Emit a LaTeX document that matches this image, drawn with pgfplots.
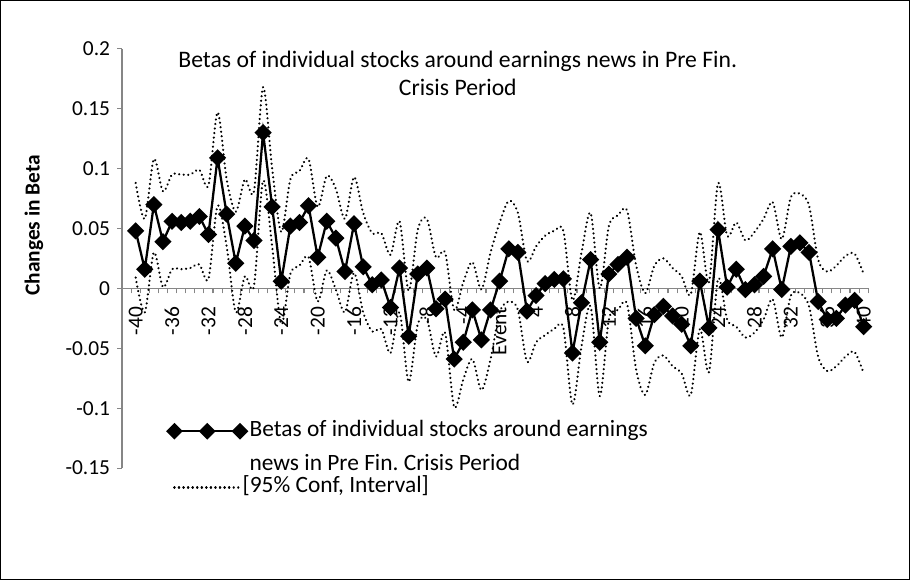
\documentclass[border=0pt]{standalone}
\usepackage{pgfplots}
\pgfplotsset{compat=1.18}
\usepackage{fontspec}
\setmainfont{Carlito}
\frenchspacing
\definecolor{axgray}{RGB}{134,134,134}
\pgfplotsset{
  mylegA/.style={legend image code/.code={\draw[##1, line width=1.4pt] plot coordinates {(0pt,0pt) (24.5pt,0pt) (49pt,0pt)};}},
  mylegB/.style={legend image code/.code={\draw[##1, overlay] (0pt,0pt) -- (43.5pt,0pt); \path (0pt,0pt) -- (49pt,0pt);}},
}
\pgfplotstableread{
t main upper lower
-40 0.048 0.088 0.009
-39 0.016 0.058 -0.020
-38 0.070 0.108 0.030
-37 0.039 0.081 0.001
-36 0.056 0.095 0.016
-35 0.055 0.095 0.016
-34 0.056 0.095 0.017
-33 0.060 0.099 0.020
-32 0.045 0.086 0.008
-31 0.109 0.147 0.069
-30 0.062 0.091 0.035
-29 0.021 0.064 -0.020
-28 0.052 0.091 0.010
-27 0.040 0.081 0.002
-26 0.130 0.168 0.090
-25 0.068 0.100 0.035
-24 0.006 0.047 -0.030
-23 0.052 0.091 0.012
-22 0.055 0.098 0.019
-21 0.069 0.108 0.026
-20 0.026 0.068 -0.011
-19 0.056 0.094 0.015
-18 0.042 0.083 -0.001
-17 0.014 0.058 -0.020
-16 0.054 0.093 0.013
-15 0.018 0.063 -0.020
-14 0.003 0.046 -0.036
-13 0.007 0.046 -0.034
-12 -0.016 0.028 -0.054
-11 0.017 0.056 -0.020
-10 -0.040 -0.002 -0.078
-9 0.012 0.049 -0.030
-8 0.017 0.058 -0.026
-7 -0.017 0.026 -0.057
-6 -0.009 0.030 -0.037
-5 -0.059 -0.018 -0.099
-4 -0.045 0.005 -0.076
-3 -0.018 0.022 -0.059
-2 -0.043 -0.001 -0.085
-1 -0.018 0.030 -0.059
0 0.006 0.055 -0.020
1 0.033 0.073 -0.011
2 0.030 0.063 -0.018
3 -0.019 0.023 -0.061
4 -0.006 0.035 -0.045
5 0.004 0.044 -0.039
6 0.0075 0.048 -0.034
7 0.008 0.048 -0.033
8 -0.054 -0.010 -0.097
9 -0.012 0.030 -0.048
10 0.024 0.063 -0.015
11 -0.045 0.000 -0.090
12 0.012 0.052 -0.026
13 0.020 0.061 -0.018
14 0.026 0.065 -0.013
15 -0.025 0.019 -0.068
16 -0.048 -0.004 -0.089
17 -0.022 0.019 -0.062
18 -0.015 0.025 -0.056
19 -0.023 0.017 -0.065
20 -0.030 0.010 -0.071
21 -0.048 -0.005 -0.089
22 0.006 0.047 -0.034
23 -0.033 0.005 -0.070
24 0.049 0.088 0.008
25 0.001 0.044 -0.026
26 0.016 0.055 -0.032
27 -0.001 0.040 -0.041
28 0.003 0.047 -0.037
29 0.010 0.058 -0.026
30 0.033 0.072 -0.009
31 -0.001 0.041 -0.041
32 0.035 0.076 -0.006
33 0.038 0.079 -0.004
34 0.030 0.069 -0.015
35 -0.011 0.024 -0.057
36 -0.026 0.014 -0.069
37 -0.025 0.019 -0.065
38 -0.014 0.027 -0.057
39 -0.010 0.029 -0.053
40 -0.032 0.012 -0.071
}\datatable
\begin{document}
\begin{tikzpicture}
\begin{axis}[
  at={(0pt,0pt)}, anchor=south west,
  scale only axis, width=558pt, height=313.5pt,
  xmin=-41.5, xmax=40.5, ymin=-0.15, ymax=0.2,
  axis x line*=middle, axis y line*=left,
  axis line style={axgray, line width=0.8pt},
  tick align=outside,
  xtick={-40,-36,-32,-28,-24,-20,-16,-12,-8,-4,0,4,8,12,16,20,24,28,32,36,40},
  xticklabels={-40,-36,-32,-28,-24,-20,-16,-12,-8,-4,Event,4,8,12,16,20,24,28,32,36,40},
  minor xtick={-41.5,-40.5,...,40.5},
  major x tick style={draw=none},
  minor x tick style={axgray, line width=0.8pt},
  minor tick length=3.75pt,
  ytick={-0.15,-0.1,-0.05,0,0.05,0.1,0.15,0.2},
  yticklabels={-0.15,-0.1,-0.05,0,0.05,0.1,0.15,0.2},
  ytick style={axgray, line width=0.8pt},
  major tick length=3.75pt,
  tick label style={font=\fontsize{16}{19}\selectfont, black},
  x tick label style={rotate=90, anchor=east, inner sep=1pt, xshift=-9pt},
  y tick label style={inner sep=1pt, xshift=-4pt},
  ylabel={Changes in Beta},
  every axis y label/.style={at={(axis description cs:-0.118,0.579)}, rotate=90, anchor=center, font=\fontsize{16}{19}\selectfont\bfseries},
  title={Betas of individual stocks around earnings news in Pre Fin.\\Crisis Period},
  title style={at={(axis description cs:0.45,0.987)}, anchor=north, align=center, font=\fontsize{17.7}{21}\selectfont},
  legend style={at={(axis description cs:0.0605,0.1207)}, anchor=north west, draw=none, fill=none,
    inner sep=0pt, column sep=2pt, row sep=0pt,
    font=\fontsize{17.5}{20}\selectfont,
    nodes={inner sep=0pt, text height=14pt, text depth=6.25pt}},
  legend cell align=left,
  clip=false,
]
\addplot[black, line width=1.7pt, mark=square*, mark size=3.7pt, mark options={rotate=45, solid, fill=black}, mylegA]
  table[x=t, y=main] {\datatable};
\addlegendentry{Betas of individual stocks around earnings}
\addlegendimage{empty legend}
\addlegendentry[text height=19.25pt, text depth=2.5pt]{news in Pre Fin. Crisis Period}
\addplot[black, line width=1.8pt, line cap=round, dash pattern=on 0.01pt off 3.4pt, smooth, tension=0.5, mylegB]
  table[x=t, y=upper] {\datatable};
\addlegendentry{\hspace*{-5.25pt}[95\% Conf, Interval]}
\addplot[black, line width=1.8pt, line cap=round, dash pattern=on 0.01pt off 3.4pt, smooth, tension=0.5, forget plot]
  table[x=t, y=lower] {\datatable};
\end{axis}
\draw[black, line width=1pt] (-90.75pt,-83.25pt) rectangle (588.75pt,349.5pt);
\end{tikzpicture}
\end{document}
